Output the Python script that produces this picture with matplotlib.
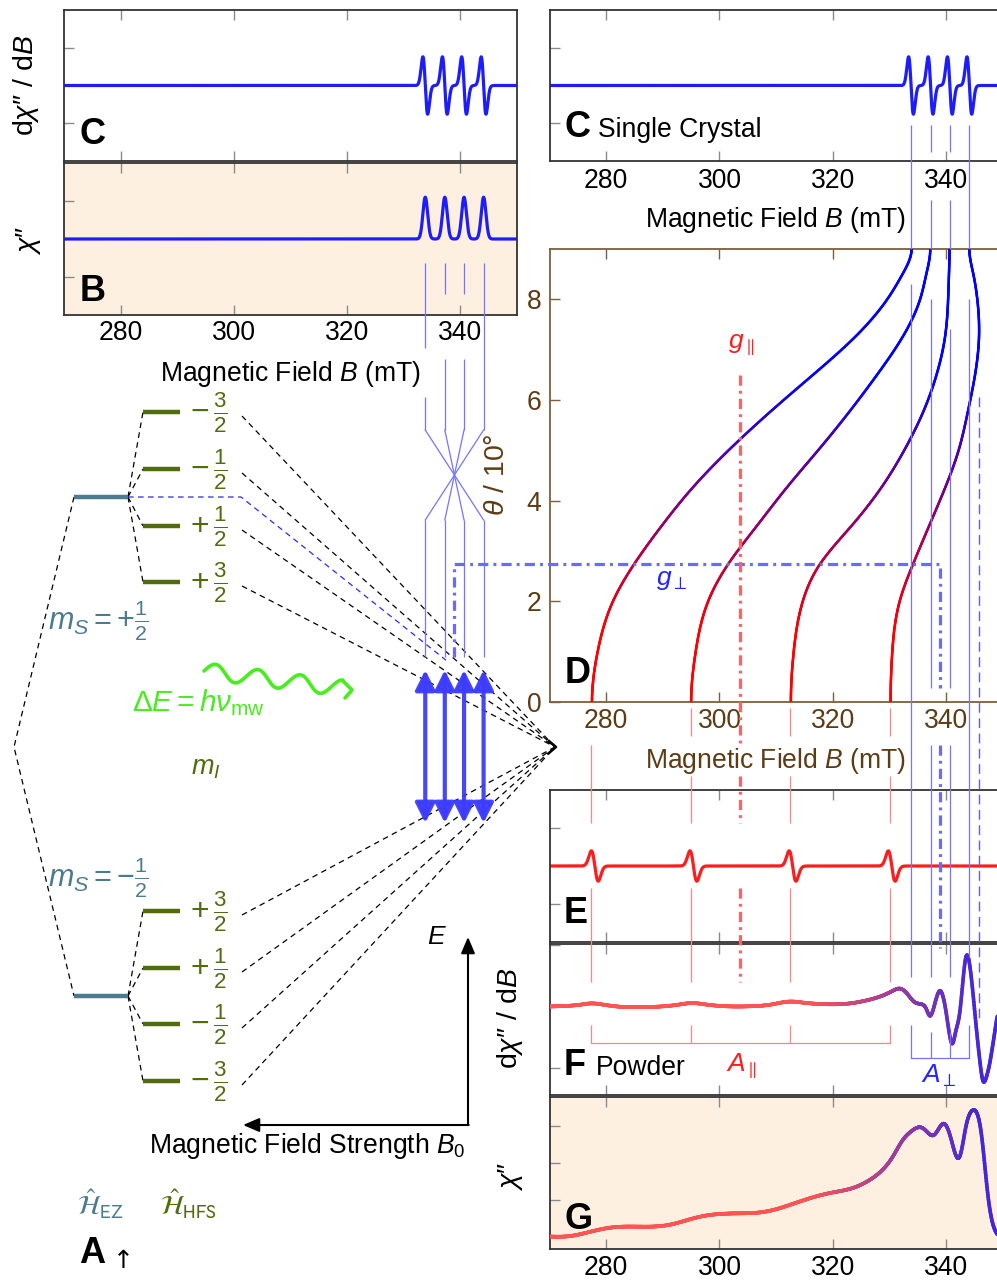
import numpy as np
import matplotlib
matplotlib.use("Agg")
import matplotlib.pyplot as plt
from matplotlib.collections import LineCollection
from matplotlib.patches import FancyArrowPatch

# ------------------------------------------------------------------
# data
# ------------------------------------------------------------------
B_RANGE = (270, 350)
B_TICKS = [280, 300, 320, 340]
THETA_TICKS = [0, 2, 4, 6, 8]

perp_lines_B = [333.8, 337.25, 340.65, 344.1]   # single crystal, theta = 90 deg
par_lines_B = [277.3, 294.9, 312.5, 330.1]      # single crystal, theta = 0 deg
par_E_B = [278.0, 295.4, 312.9, 330.4]          # derivative zero crossings (panel E)
g_par_B = 303.7
g_perp_B = 338.95
overshoot_B = 345.8
g_perp_theta = 2.75
g_par_theta = 6.5

abs_peak_height = 0.55
der_peak_height = 0.38
E_peak_height = 0.20
perp_linewidth = 0.42
par_linewidth = 0.60

# panel D: resonance field (mT) vs theta/10deg, one curve per m_I
theta_grid = [0, 1, 2, 2.75, 3.5, 4.25, 5, 5.75, 6.5, 7.25, 8, 8.5, 9]
c1_B = [277.5, 278.5, 281.2, 285.0, 289.8, 295.2, 301.6, 308.8, 316.5, 323.9, 329.6, 332.3, 333.9]
c2_B = [295.0, 295.8, 298.0, 301.6, 306.6, 311.8, 317.4, 322.8, 327.8, 332.3, 335.4, 336.5, 337.2]
c3_B = [312.6, 313.1, 314.7, 317.8, 323.3, 328.5, 332.6, 335.9, 338.3, 339.8, 340.35, 340.5, 340.6]
c4_B = [330.2, 330.5, 331.8, 334.2, 337.0, 339.8, 342.2, 343.8, 345.1, 345.8, 345.5, 344.8, 344.1]

# panel F: powder derivative spectrum
F_B = [270.0, 273.0, 275.5, 277.3, 279.5, 282.0, 285.0, 288.0, 291.0, 293.5, 295.0, 297.0,
       300.0, 303.0, 306.0, 309.0, 312.5, 315.0, 318.0, 320.5, 323.0, 326.0, 328.6, 330.5,
       331.8, 333.0, 334.3, 335.5, 336.5, 337.1, 337.9, 338.9, 339.9, 340.5, 341.1, 341.7,
       342.4, 343.5, 344.4, 345.3, 345.9, 346.5, 347.1, 347.6, 348.2, 349.0]
F_val = [0.0, 0.005, 0.015, 0.025, 0.015, 0.0, -0.005, -0.003, 0.005, 0.02, 0.028, 0.02,
         0.005, 0.0, 0.003, 0.015, 0.04, 0.03, 0.02, 0.018, 0.025, 0.05, 0.085, 0.125,
         0.145, 0.11, 0.04, 0.02, -0.02, -0.075, 0.005, 0.126, -0.02, -0.20, -0.30, -0.20,
         -0.05, 0.40, 0.25, -0.16, -0.42, -0.60, -0.57, -0.48, -0.32, -0.08]

# panel G: powder absorption spectrum
G_B = [270.0, 273.5, 277.2, 281.2, 285.3, 291.2, 294.8, 297.6, 302.9, 308.2, 312.4, 315.9,
       320.0, 323.5, 326.5, 328.8, 330.6, 332.4, 333.8, 335.9, 337.9, 339.7, 340.9, 342.4,
       343.5, 344.7, 346.2, 347.4, 348.5, 349.0]
G_val = [0.0, 0.01, 0.13, 0.25, 0.27, 0.32, 0.47, 0.57, 0.63, 0.68, 0.86, 1.04,
         1.20, 1.32, 1.54, 1.82, 2.18, 2.64, 2.86, 2.95, 2.77, 3.07, 2.64, 2.18,
         3.00, 3.44, 2.81, 1.09, 0.22, 0.06]

upper_labels = [r"$-\,\frac{3}{2}$", r"$-\,\frac{1}{2}$", r"$+\,\frac{1}{2}$", r"$+\,\frac{3}{2}$"]
lower_labels = [r"$+\,\frac{3}{2}$", r"$+\,\frac{1}{2}$", r"$-\,\frac{1}{2}$", r"$-\,\frac{3}{2}$"]

# ------------------------------------------------------------------
# styling
# ------------------------------------------------------------------
W, H = 997, 1281
plt.rcParams['font.family'] = ['Liberation Sans', 'DejaVu Sans']
plt.rcParams['mathtext.fontset'] = 'custom'
plt.rcParams['mathtext.rm'] = 'Liberation Sans'
plt.rcParams['mathtext.it'] = 'Liberation Sans:italic'
plt.rcParams['mathtext.bf'] = 'Liberation Sans:bold'
plt.rcParams['mathtext.sf'] = 'Liberation Sans'
plt.rcParams['mathtext.fallback'] = 'stixsans'

BLUE = '#1c1cff'
RED = '#ff1c1c'
LBLUE = '#7474ff'
LRED = '#ff8585'
BROWN_SP = '#7d5f3c'
BROWN_TX = '#5e3c13'
TEAL = '#4a7b8e'
OLIVE = '#506c0c'
GREEN = '#46ee1c'
PEACH = '#fdf0e1'
FS = 19.1
FS_Y = 20.5

fig = plt.figure(figsize=(W / 100, H / 100), dpi=100)


def rect(x0, y0, x1, y1):
    return [x0 / W, 1 - y1 / H, (x1 - x0) / W, (y1 - y0) / H]


def style(ax, ylim, yticks, labels=False, spine='#333333', tick='#8a8a8a', lab='black', face='none', pad=5):
    ax.set_xlim(*B_RANGE)
    ax.set_ylim(*ylim)
    ax.set_xticks(B_TICKS)
    ax.set_yticks(yticks)
    ax.set_facecolor(face)
    ax.tick_params(axis='both', direction='in', length=7.5, width=1, colors=tick,
                   top=True, bottom=True, left=True, right=False,
                   labelleft=False, labelbottom=labels, labelsize=FS, labelcolor=lab, pad=pad)
    for s in ax.spines.values():
        s.set_color(spine)
        s.set_linewidth(1.3)


axLC = fig.add_axes(rect(64, 10, 517, 161))
axLB = fig.add_axes(rect(64, 163, 517, 315))
axRC = fig.add_axes(rect(549.5, 10, 1002.8, 161))
axD = fig.add_axes(rect(549.5, 249, 1002.8, 702))
axE = fig.add_axes(rect(549.5, 790, 1002.8, 942))
axF = fig.add_axes(rect(549.5, 944, 1002.8, 1095))
axG = fig.add_axes(rect(549.5, 1097, 1002.8, 1249))

style(axLC, (-1, 1), [-0.5, 0.5])
style(axLB, (-1, 1), [-0.5, 0.5], labels=True, face=PEACH, pad=3.6)
style(axRC, (-1, 1), [-0.5, 0.5], labels=True, pad=5.0)
style(axD, (0, 9), THETA_TICKS, labels=True, spine=BROWN_SP, tick=BROWN_SP, lab=BROWN_TX, pad=4.3)
axD.tick_params(axis='y', labelleft=True, pad=6)
style(axE, (-1, 1), [-0.5, 0.5])
style(axF, (-0.715, 0.505), [-0.5, 0.5])
style(axG, (-0.34, 3.8), [1, 2, 3], labels=True, face=PEACH, pad=4.0)

# ------------------------------------------------------------------
# spectra
# ------------------------------------------------------------------
Bgrid = np.linspace(B_RANGE[0], B_RANGE[1], 4000)


def absorption(centers, height, width):
    y = np.zeros_like(Bgrid)
    for c in centers:
        y += height * np.exp(-0.5 * ((Bgrid - c) / width) ** 2)
    return y


def derivative(centers, height, width):
    y = np.zeros_like(Bgrid)
    for c in centers:
        u = (Bgrid - c) / width
        y += -height * u * np.exp(0.5 - 0.5 * u ** 2)
    return y


axLB.plot(Bgrid, absorption(perp_lines_B, abs_peak_height, perp_linewidth), color=BLUE, lw=2.3)
axLC.plot(Bgrid, derivative(perp_lines_B, der_peak_height, perp_linewidth), color=BLUE, lw=2.3)
axRC.plot(Bgrid, derivative(perp_lines_B, der_peak_height, perp_linewidth), color=BLUE, lw=2.3)
axE.plot(Bgrid, derivative(par_E_B, E_peak_height, par_linewidth), color=RED, lw=2.3)


def cubic_spline(x, y, xs, clamp=None):
    """Smooth drawing curve through the read points (cubic spline)."""
    x = np.asarray(x, float)
    y = np.asarray(y, float)
    n = len(x)
    h = np.diff(x)
    A = np.zeros((n, n))
    r = np.zeros(n)
    for i in range(1, n - 1):
        A[i, i - 1] = h[i - 1]
        A[i, i] = 2 * (h[i - 1] + h[i])
        A[i, i + 1] = h[i]
        r[i] = 3 * ((y[i + 1] - y[i]) / h[i] - (y[i] - y[i - 1]) / h[i - 1])
    if clamp is None:
        A[0, 0] = 1
        A[-1, -1] = 1
    else:
        A[0, 0], A[0, 1] = 2 * h[0], h[0]
        r[0] = 3 * ((y[1] - y[0]) / h[0] - clamp[0])
        A[-1, -2], A[-1, -1] = h[-1], 2 * h[-1]
        r[-1] = 3 * (clamp[1] - (y[-1] - y[-2]) / h[-1])
    c = np.linalg.solve(A, r)
    b = (y[1:] - y[:-1]) / h - h * (2 * c[:-1] + c[1:]) / 3
    d = (c[1:] - c[:-1]) / (3 * h)
    idx = np.clip(np.searchsorted(x, xs) - 1, 0, n - 2)
    dx = xs - x[idx]
    return y[idx] + b[idx] * dx + c[idx] * dx ** 2 + d[idx] * dx ** 3


def gradient_line(ax, x, y, t, c0, c1, lw):
    pts = np.column_stack([x, y])
    segs = np.stack([pts[:-1], pts[1:]], axis=1)
    tm = 0.5 * (t[:-1] + t[1:])
    c0 = np.array(c0)
    c1 = np.array(c1)
    cols = (1 - tm)[:, None] * c0 + tm[:, None] * c1
    lc = LineCollection(segs, colors=cols, linewidths=lw, capstyle='round', joinstyle='round', zorder=3)
    ax.add_collection(lc)


th_fine = np.linspace(0, 9, 600)
for bb in [c1_B, c2_B, c3_B, c4_B]:
    bf = cubic_spline(theta_grid, bb, th_fine, clamp=(0.0, 0.0))
    t = np.clip((th_fine - 1.5) / 5.0, 0, 1)
    gradient_line(axD, bf, th_fine, t, (1.0, 0.0, 0.0), (0.0, 0.0, 1.0), 1.8)

POW0 = (1.0, 0.33, 0.33)
POW1 = (0.27, 0.15, 0.86)
for ax, bx, vy in [(axF, F_B, F_val), (axG, G_B, G_val)]:
    xs = np.linspace(bx[0], bx[-1], 1500)
    ys = cubic_spline(bx, vy, xs)
    gradient_line(ax, xs, ys, np.clip((xs - 316) / 29.0, 0, 1), POW0, POW1, 2.6)

# ------------------------------------------------------------------
# overlay (figure pixel coordinates, y downwards)
# ------------------------------------------------------------------
ov = fig.add_axes([0, 0, 1, 1], zorder=10)
ov.set_xlim(0, W)
ov.set_ylim(H, 0)
ov.axis('off')
ov.patch.set_alpha(0)


def xpix(ax, b):
    return ax.transData.transform((b, 0))[0]


def ypix(ax, v):
    return H - ax.transData.transform((300, v))[1]


def vsegs(x, spans, **kw):
    for y0, y1 in spans:
        ov.plot([x, x], [y0, y1], solid_capstyle='butt', **kw)


thin_b = dict(color=LBLUE, lw=0.9, zorder=2)
thin_r = dict(color=LRED, lw=0.9, zorder=2)

# left set of single-crystal lines, crossing, down to the transitions
xsL = [xpix(axLB, b) for b in perp_lines_B]
left_spans = [[(263, 348), (397, 430)], [(263, 294), (359, 430)],
              [(263, 294), (359, 430)], [(263, 430)]]
for x, sp in zip(xsL, left_spans):
    vsegs(x, sp, **thin_b)
for i in range(4):
    ov.plot([xsL[i], xsL[3 - i]], [430, 520], **thin_b)
    vsegs(xsL[i], [(520, 657)], **thin_b)

# right set
xsR = [xpix(axD, b) for b in perp_lines_B]
right_spans = [[(125, 249), (284, 977)],
               [(125, 152), (200, 249), (299, 688), (745, 977)],
               [(125, 152), (200, 249), (329, 688), (745, 977)],
               [(125, 249), (299, 957)]]
for x, sp in zip(xsR, right_spans):
    vsegs(x, sp, **thin_b)
# A_perp bracket
vsegs(xsR[0], [(1025, 1058)], **thin_b)
vsegs(xsR[3], [(1025, 1058)], **thin_b)
vsegs(xsR[1], [(1032, 1058)], **thin_b)
vsegs(xsR[2], [(1032, 1058)], **thin_b)
ov.plot([xsR[0], xsR[3]], [1058, 1058], **thin_b)

# parallel lines
xsP = [xpix(axD, b) for b in par_lines_B]
for i, x in enumerate(xsP):
    sp = [(745, 823)] if i == 0 else [(708, 736), (776, 823)]
    vsegs(x, sp + [(888, 982), (1025, 1043)], **thin_r)
ov.plot([xsP[0], xsP[3]], [1043, 1043], **thin_r)

# overshoot dashed line
xo = xpix(axD, overshoot_B)
ov.plot([xo, xo], [397, 1020], color='#5c5cff', lw=1.0, ls=(0, (7, 4)), zorder=2)

# g_perp dash-dot
ygp = ypix(axD, g_perp_theta)
xgL = xpix(axLB, g_perp_B)
xgR = xpix(axD, g_perp_B)
dd_b = dict(color='#6a6aff', lw=2.3, ls=(0, (3.2, 1.6, 0.9, 1.6)), zorder=3)
ov.plot([xgL, xgL, xgR, xgR], [657, ygp, ygp, 688], **dd_b)
ov.plot([xgR, xgR], [745, 948], **dd_b)

# g_par dash-dot
xgp = xpix(axD, g_par_B)
dd_r = dict(color='#ff6262', lw=2.3, ls=(0, (3.2, 1.6, 0.9, 1.6)), zorder=3)
for y0, y1 in [(ypix(axD, g_par_theta), 745), (776, 823), (888, 982)]:
    ov.plot([xgp, xgp], [y0, y1], **dd_r)

# ------------------------------------------------------------------
# energy level diagram (schematic)
# ------------------------------------------------------------------
dash_k = dict(color='black', lw=0.9, ls=(0, (4.5, 3.5)), zorder=1)
up_y = [412, 469, 526, 582]
lo_y = [911, 968, 1024, 1081]
conv = (555, 747)

ov.plot([74, 128], [497, 497], color=TEAL, lw=3.2, solid_capstyle='butt', zorder=3)
ov.plot([74, 128], [996, 996], color=TEAL, lw=3.2, solid_capstyle='butt', zorder=3)
ov.plot([74, 14, 74], [497, 747, 996], **dash_k)
for ys, yz, labs in [(up_y, 497, upper_labels), (lo_y, 996, lower_labels)]:
    for y, lab in zip(ys, labs):
        ov.plot([143, 180], [y, y], color=OLIVE, lw=3.2, solid_capstyle='butt', zorder=3)
        ov.plot([128, 143], [yz, y], **dash_k)
        ov.text(190, y + 1, lab, color=OLIVE, fontsize=23, ha='left', va='center', zorder=4)
        ov.plot([242, conv[0]], [y + 4, conv[1]], **dash_k)
# blue dashed line from the unsplit level
xb = 446
yb = 497 + (xb - 241) * (conv[1] - 497) / (conv[0] - 241)
ov.plot([128, 241, xb], [497, 497, yb], color='#2a2aff', lw=0.9, ls=(0, (4.5, 3.5)), zorder=1)
ov.plot([549, 556, 549], [741, 747, 753], color='black', lw=1.8, zorder=4)

# transitions
for x in xsL:
    ov.add_patch(FancyArrowPatch((x, 823), (x, 670),
                                 arrowstyle='<|-|>,head_length=1.0,head_width=0.5',
                                 mutation_scale=12, lw=3.0, color='#3c3cff', alpha=0.95,
                                 shrinkA=0, shrinkB=0, zorder=5))

# microwave photon
s = np.linspace(0, 1, 400)
p0 = np.array([204.0, 671.0])
p1 = np.array([342.0, 688.0])
d = p1 - p0
n = np.array([d[1], -d[0]]) / np.hypot(*d)
wave = p0[None, :] + s[:, None] * d[None, :] + (8.0 * np.sin(2 * np.pi * 3.25 * s))[:, None] * n[None, :]
ov.plot(wave[:, 0], wave[:, 1], color=GREEN, lw=2.6, zorder=4, solid_capstyle='round')
ov.plot([343, 352, 345], [681, 690, 698], color=GREEN, lw=2.6, zorder=4, solid_capstyle='round')

ov.text(48, 621, r"$m_S = +\frac{1}{2}$", color=TEAL, fontsize=22, ha='left', va='center')
ov.text(48, 878, r"$m_S = -\frac{1}{2}$", color=TEAL, fontsize=22, ha='left', va='center')
ov.text(132, 703, r"$\Delta E = h\nu_{\mathrm{mw}}$", color=GREEN, fontsize=21.4, ha='left', va='center')
ov.text(191, 768, r"$m_I$", color=OLIVE, fontsize=19.5, ha='left', va='center')

# energy / field axes
ov.add_patch(FancyArrowPatch((468, 1125), (468, 937), arrowstyle='-|>,head_length=0.7,head_width=0.3',
                             mutation_scale=14, lw=1.5, color='black', shrinkA=0, shrinkB=0, zorder=4))
ov.add_patch(FancyArrowPatch((468.7, 1125), (243, 1125), arrowstyle='-|>,head_length=0.7,head_width=0.3',
                             mutation_scale=14, lw=1.5, color='black', shrinkA=0, shrinkB=0, zorder=4))
ov.text(437, 937, r"$E$", fontsize=19, ha='center', va='center')
ov.text(307, 1146, r"Magnetic Field Strength $B_0$", fontsize=FS, ha='center', va='center')
ov.text(77, 1205, r"$\hat{\mathcal{H}}_{\mathrm{EZ}}$", color=TEAL, fontsize=19.3, ha='left', va='center',
        math_fontfamily='stixsans')
ov.text(160, 1205, r"$\hat{\mathcal{H}}_{\mathrm{HFS}}$", color=OLIVE, fontsize=19.7, ha='left', va='center',
        math_fontfamily='stixsans')
ov.text(79, 1263, "A", fontsize=26, fontweight='bold', ha='left', va='baseline')
ov.text(113, 1268, "\u2191", fontsize=18, ha='left', va='baseline', family='DejaVu Sans')

# ------------------------------------------------------------------
# labels
# ------------------------------------------------------------------
ylab = "d$\\chi$\u2033 / d$B$"
ov.text(26, 85, ylab, fontsize=FS_Y, rotation=90, ha='center', va='center')
ov.text(28, 240, "$\\chi$\u2033", fontsize=FS_Y, rotation=90, ha='center', va='center')
ov.text(510, 1018, ylab, fontsize=FS_Y, rotation=90, ha='center', va='center')
ov.text(510, 1176, "$\\chi$\u2033", fontsize=FS_Y, rotation=90, ha='center', va='center')
ov.text(497, 475, r"$\theta$ / 10°", fontsize=FS_Y, rotation=90, ha='center', va='center', color=BROWN_TX)

ov.text(290.5, 381, r"Magnetic Field $B$ (mT)", fontsize=FS, ha='center', va='baseline')
ov.text(776, 227, r"Magnetic Field $B$ (mT)", fontsize=FS, ha='center', va='baseline')
ov.text(776, 768, r"Magnetic Field $B$ (mT)", fontsize=FS, ha='center', va='baseline', color=BROWN_TX)

ov.text(79, 144, "C", fontsize=26, fontweight='bold', ha='left', va='baseline')
ov.text(80, 301, "B", fontsize=26, fontweight='bold', ha='left', va='baseline')
ov.text(564, 137, "C", fontsize=26, fontweight='bold', ha='left', va='baseline')
ov.text(598, 137, "Single Crystal", fontsize=FS, ha='left', va='baseline')
ov.text(565, 683, "D", fontsize=26, fontweight='bold', ha='left', va='baseline')
ov.text(564, 923, "E", fontsize=26, fontweight='bold', ha='left', va='baseline')
ov.text(564, 1075, "F", fontsize=26, fontweight='bold', ha='left', va='baseline')
ov.text(596, 1075, "Powder", fontsize=FS, ha='left', va='baseline')
ov.text(564, 1229, "G", fontsize=26, fontweight='bold', ha='left', va='baseline')

ov.text(741, 345, r"$g_{\parallel}$", fontsize=19, color=RED, ha='center', va='center')
ov.text(672, 580, r"$g_{\perp}$", fontsize=19, color='#2424ff', ha='center', va='center')
ov.text(742, 1066, r"$A_{\parallel}$", fontsize=19, color=RED, ha='center', va='center')
ov.text(939, 1076, r"$A_{\perp}$", fontsize=19, color='#2424ff', ha='center', va='center')

fig.savefig("out.png", dpi=100)
